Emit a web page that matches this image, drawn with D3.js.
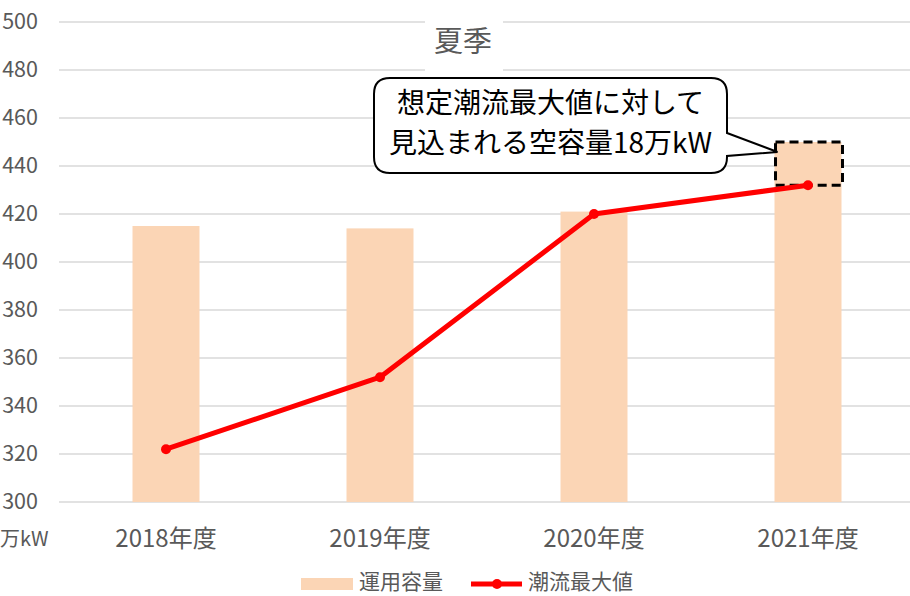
<!DOCTYPE html>
<html lang="ja">
<head>
<meta charset="UTF-8">
<title>夏季</title>
<script src="https://d3js.org/d3.v7.min.js"></script>
<style>
    body { margin: 0; background: #fff; }
    svg { display: block; font-family: "Noto Sans CJK JP", "Noto Sans", sans-serif; }
    .tick text { fill: #595959; }
</style>
</head>
<body>
<svg width="910" height="596"></svg>
<script>
    // データ
    const years = ["2018年度", "2019年度", "2020年度", "2021年度"];
    const capacity = [415, 414, 421, 450];      // 運用容量
    const peakFlow = [322, 352, 420, 432];      // 潮流最大値
    const yTicks = [300, 320, 340, 360, 380, 400, 420, 440, 460, 480, 500];

    const svg = d3.select("svg");
    const grey = "#595959";

    const x = d3.scaleBand()
        .domain(years)
        .range([59, 915])
        .paddingInner(0.687)
        .paddingOuter(0.3435);

    const y = d3.scaleLinear()
        .domain([300, 500])
        .range([502, 22]);

    // グリッド線
    svg.append("g")
        .selectAll("line")
        .data(yTicks)
        .join("line")
        .attr("x1", 59).attr("x2", 910)
        .attr("y1", d => y(d)).attr("y2", d => y(d))
        .attr("stroke", "#d9d9d9")
        .attr("stroke-width", 1.5);

    // Y軸ラベル
    const yAxis = svg.append("g")
        .attr("transform", "translate(38,0)")
        .call(d3.axisLeft(y).tickValues(yTicks).tickSize(0).tickPadding(0));
    yAxis.select(".domain").remove();
    yAxis.selectAll("text").attr("font-size", 21.5).attr("font-family", "Noto Sans CJK JP");

    svg.append("text")
        .attr("x", 0).attr("y", 546)
        .attr("fill", grey).attr("font-size", 20)
        .text("万kW");

    // X軸ラベル
    const xAxis = svg.append("g")
        .attr("transform", "translate(0,520)")
        .call(d3.axisBottom(x).tickSize(0).tickPadding(10));
    xAxis.select(".domain").remove();
    xAxis.selectAll("text").attr("font-size", 24).attr("font-family", "Noto Sans CJK JP");

    // 棒グラフ
    svg.append("g")
        .selectAll("rect")
        .data(years)
        .join("rect")
        .attr("x", d => x(d))
        .attr("width", x.bandwidth())
        .attr("y", (d, i) => y(capacity[i]))
        .attr("height", (d, i) => y(300) - y(capacity[i]))
        .attr("fill", "#fbd5b5");

    // 空容量の破線枠 (2021年度)
    const last = years.length - 1;
    svg.append("rect")
        .attr("x", x(years[last]) + 1)
        .attr("width", x.bandwidth())
        .attr("y", y(capacity[last]))
        .attr("height", y(peakFlow[last]) - y(capacity[last]))
        .attr("fill", "none")
        .attr("stroke", "#000")
        .attr("stroke-width", 3)
        .attr("stroke-dasharray", "9,5");

    // 折れ線
    const line = d3.line()
        .x((d, i) => x(years[i]) + x.bandwidth() / 2)
        .y(d => y(d));

    svg.append("path")
        .datum(peakFlow)
        .attr("d", line)
        .attr("fill", "none")
        .attr("stroke", "#ff0000")
        .attr("stroke-width", 5)
        .attr("stroke-linejoin", "round");

    svg.append("g")
        .selectAll("circle")
        .data(peakFlow)
        .join("circle")
        .attr("cx", (d, i) => x(years[i]) + x.bandwidth() / 2)
        .attr("cy", d => y(d))
        .attr("r", 5)
        .attr("fill", "#ff0000");

    // タイトル
    svg.append("rect")
        .attr("x", 425).attr("y", 15).attr("width", 78).attr("height", 60)
        .attr("fill", "#fff");
    svg.append("text")
        .attr("x", 463).attr("y", 52)
        .attr("text-anchor", "middle")
        .attr("fill", grey).attr("font-size", 29)
        .text("夏季");

    // 吹き出し
    const bx = 374, by = 78, bw = 353, bh = 95, r = 16;
    const tipX = x(years[last]) + 3, tipY = 152;
    const p = d3.path();
    p.moveTo(bx + r, by);
    p.lineTo(bx + bw - r, by);
    p.quadraticCurveTo(bx + bw, by, bx + bw, by + r);
    p.lineTo(bx + bw, 133);
    p.lineTo(tipX, tipY);
    p.lineTo(bx + bw, 156);
    p.lineTo(bx + bw, by + bh - r);
    p.quadraticCurveTo(bx + bw, by + bh, bx + bw - r, by + bh);
    p.lineTo(bx + r, by + bh);
    p.quadraticCurveTo(bx, by + bh, bx, by + bh - r);
    p.lineTo(bx, by + r);
    p.quadraticCurveTo(bx, by, bx + r, by);
    p.closePath();
    svg.append("path")
        .attr("d", p.toString())
        .attr("fill", "#fff")
        .attr("stroke", "#000")
        .attr("stroke-width", 2);

    const callout = ["想定潮流最大値に対して", "見込まれる空容量18万kW"];
    svg.append("g")
        .selectAll("text")
        .data(callout)
        .join("text")
        .attr("x", bx + bw / 2)
        .attr("y", (d, i) => 113 + i * 40)
        .attr("text-anchor", "middle")
        .attr("fill", "#000")
        .attr("font-size", 28)
        .text(d => d);

    // 凡例
    const lg = svg.append("g");
    lg.append("rect")
        .attr("x", 301).attr("y", 578).attr("width", 52).attr("height", 12)
        .attr("fill", "#fbd5b5");
    lg.append("text")
        .attr("x", 359).attr("y", 589)
        .attr("fill", grey).attr("font-size", 21)
        .text("運用容量");
    lg.append("line")
        .attr("x1", 471).attr("x2", 522).attr("y1", 584).attr("y2", 584)
        .attr("stroke", "#ff0000").attr("stroke-width", 5);
    lg.append("circle")
        .attr("cx", 497).attr("cy", 584).attr("r", 5)
        .attr("fill", "#ff0000");
    lg.append("text")
        .attr("x", 528).attr("y", 589)
        .attr("fill", grey).attr("font-size", 21)
        .text("潮流最大値");
</script>
</body>
</html>
